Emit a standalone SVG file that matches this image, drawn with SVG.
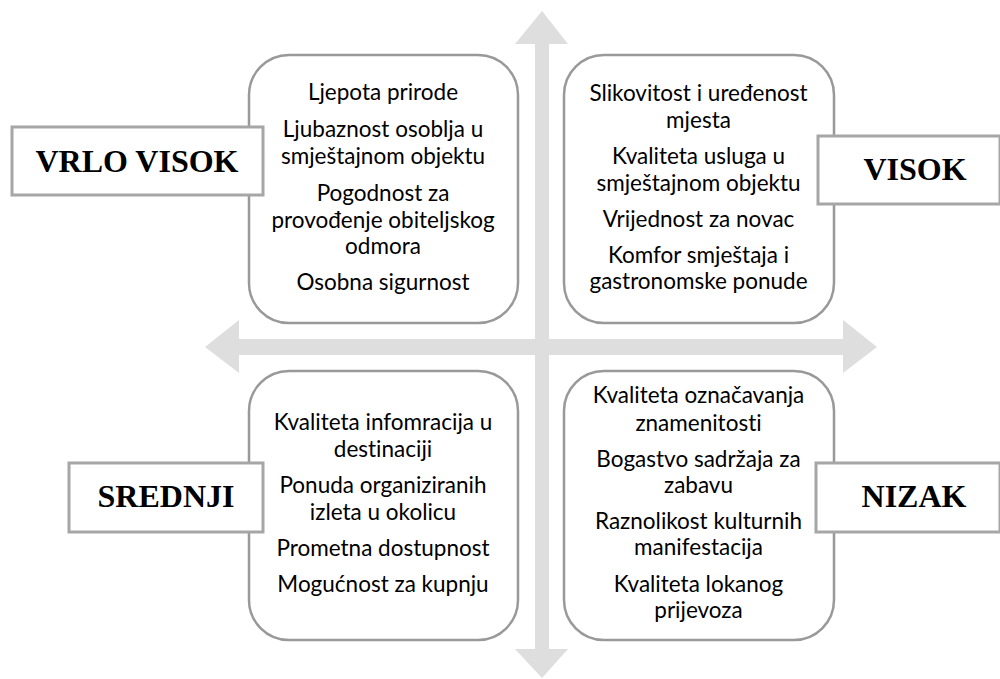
<svg xmlns="http://www.w3.org/2000/svg" width="1000" height="679" viewBox="0 0 1000 679">
<style>
.arrow{fill:#dedede;stroke:none}
.box{fill:#ffffff;stroke:#999999;stroke-width:2.5}
.lbl{fill:#ffffff;stroke:#a6a6a6;stroke-width:3}
.t{font-family:"Lato","Open Sans","Liberation Sans",sans-serif;font-size:22.5px;fill:#000;text-anchor:middle;font-variant-ligatures:none}
.h{font-family:"Liberation Serif","Times New Roman",serif;font-weight:bold;font-size:32px;fill:#000;text-anchor:middle}
</style>
<rect width="1000" height="679" fill="#ffffff"/>
<g id="connectors">
<polygon class="arrow" points="542,11 568,44 549,44 549,649 568,649 542,678 515,649 535,649 535,44 515,44"/>
<polygon class="arrow" points="205,347 239,320 239,339 843,339 843,320 877,347 843,373 843,355 239,355 239,373"/>
</g>
<g id="q-tl">
<rect class="box" x="249" y="55" width="269" height="268" rx="40" ry="40"/>
<text class="t" x="383" y="100">Ljepota prirode</text>
<text class="t" x="383" y="137">Ljubaznost osoblja u</text>
<text class="t" x="383" y="164">smještajnom objektu</text>
<text class="t" x="383" y="201">Pogodnost za</text>
<text class="t" x="383" y="228">provođenje obiteljskog</text>
<text class="t" x="383" y="254">odmora</text>
<text class="t" x="383" y="290">Osobna sigurnost</text>
</g>
<g id="q-tr">
<rect class="box" x="564" y="55" width="270" height="268" rx="40" ry="40"/>
<text class="t" x="698.5" y="101">Slikovitost i uređenost</text>
<text class="t" x="698.5" y="128">mjesta</text>
<text class="t" x="698.5" y="164">Kvaliteta usluga u</text>
<text class="t" x="698.5" y="191">smještajnom objektu</text>
<text class="t" x="698.5" y="227">Vrijednost za novac</text>
<text class="t" x="698.5" y="263">Komfor smještaja i</text>
<text class="t" x="698.5" y="289">gastronomske ponude</text>
</g>
<g id="q-bl">
<rect class="box" x="249" y="371" width="269" height="269" rx="40" ry="40"/>
<text class="t" x="383" y="430">Kvaliteta infomracija u</text>
<text class="t" x="383" y="457">destinaciji</text>
<text class="t" x="383" y="493">Ponuda organiziranih</text>
<text class="t" x="383" y="520">izleta u okolicu</text>
<text class="t" x="383" y="556">Prometna dostupnost</text>
<text class="t" x="383" y="592">Mogućnost za kupnju</text>
</g>
<g id="q-br">
<rect class="box" x="564" y="371" width="270" height="269" rx="40" ry="40"/>
<text class="t" x="698.5" y="403">Kvaliteta označavanja</text>
<text class="t" x="698.5" y="431">znamenitosti</text>
<text class="t" x="698.5" y="467">Bogastvo sadržaja za</text>
<text class="t" x="698.5" y="493">zabavu</text>
<text class="t" x="698.5" y="529">Raznolikost kulturnih</text>
<text class="t" x="698.5" y="555">manifestacija</text>
<text class="t" x="698.5" y="592">Kvaliteta lokanog</text>
<text class="t" x="698.5" y="618">prijevoza</text>
</g>
<g id="lbl-vrlo-visok">
<rect class="lbl" x="12" y="127" width="251" height="68"/>
<text class="h" x="137" y="172">VRLO VISOK</text>
</g>
<g id="lbl-visok">
<rect class="lbl" x="818" y="136" width="182" height="68"/>
<text class="h" x="915" y="180">VISOK</text>
</g>
<g id="lbl-srednji">
<rect class="lbl" x="69" y="463" width="194" height="69"/>
<text class="h" x="166" y="507">SREDNJI</text>
</g>
<g id="lbl-nizak">
<rect class="lbl" x="816" y="463" width="184" height="69"/>
<text class="h" x="914" y="507">NIZAK</text>
</g>
</svg>
